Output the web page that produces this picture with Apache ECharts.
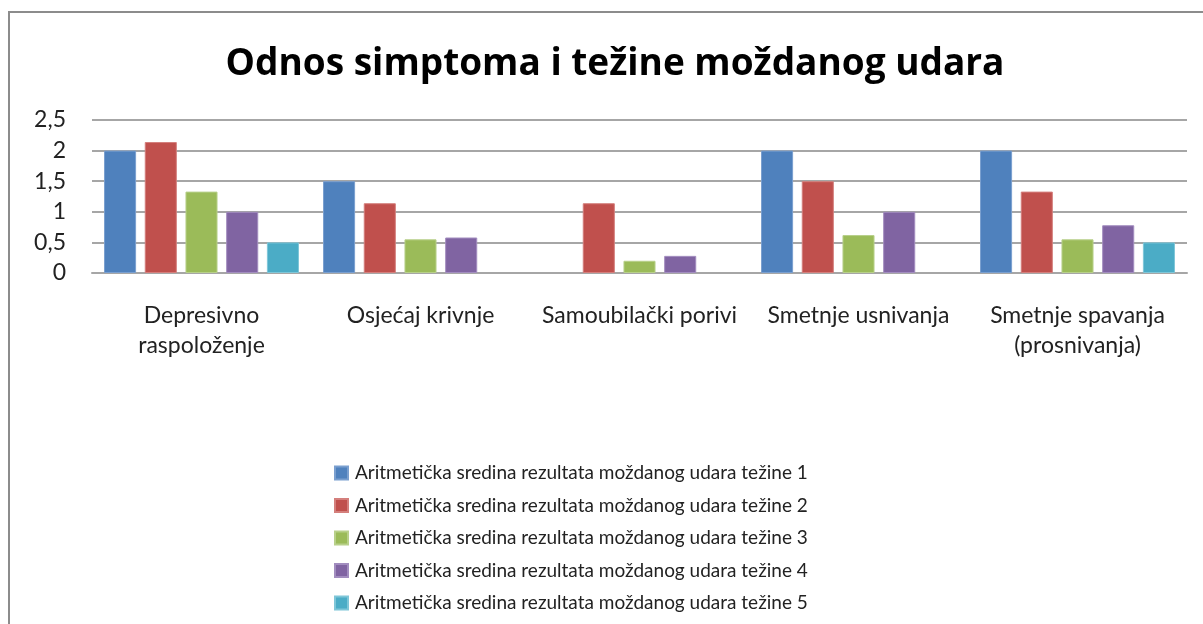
<!DOCTYPE html>
<html>
<head>
<meta charset="utf-8">
<script src="https://cdn.jsdelivr.net/npm/echarts@6/dist/echarts.min.js"></script>
<style>
  html, body { margin: 0; padding: 0; background: #fff; }
  #chart { width: 1203px; height: 624px; }
</style>
</head>
<body>
<div id="chart"></div>
<script>
// kategorije (simptomi)
const categories = [
  'Depresivno\nraspoloženje',
  'Osjećaj krivnje',
  'Samoubilački porivi',
  'Smetnje usnivanja',
  'Smetnje spavanja\n(prosnivanja)'
]

// aritmetičke sredine po težini moždanog udara
const tezina1 = [2.0, 1.5, null, 2.0, 2.0]
const tezina2 = [2.14, 1.14, 1.14, 1.5, 1.33]
const tezina3 = [1.33, 0.55, 0.2, 0.62, 0.55]
const tezina4 = [1.0, 0.58, 0.28, 1.0, 0.78]
const tezina5 = [0.5, null, null, null, 0.5]

const seriesNames = [
  'Aritmetička sredina rezultata moždanog udara težine 1',
  'Aritmetička sredina rezultata moždanog udara težine 2',
  'Aritmetička sredina rezultata moždanog udara težine 3',
  'Aritmetička sredina rezultata moždanog udara težine 4',
  'Aritmetička sredina rezultata moždanog udara težine 5'
]
const seriesData = [tezina1, tezina2, tezina3, tezina4, tezina5]
const colors = ['#4F81BD', '#C0504D', '#9BBB59', '#8064A2', '#4BACC6']
const borders = ['#7A9FCF', '#D47F7C', '#B8D08A', '#A28DBF', '#7FC6D8']

const font = 'Lato, "Open Sans", sans-serif'

const chart = echarts.init(document.getElementById('chart'))

chart.setOption({
  animation: false,
  textStyle: { fontFamily: font },
  title: {
    text: 'Odnos simptoma i težine moždanog udara',
    left: 610,
    textAlign: 'center',
    top: 41,
    textStyle: {
      fontFamily: '"Open Sans", sans-serif',
      fontSize: 37,
      fontWeight: 'bold',
      color: '#000'
    }
  },
  graphic: [
    {
      type: 'rect',
      shape: { x: 9, y: 12, width: 1260, height: 700 },
      style: { fill: 'none', stroke: '#8c8c8c', lineWidth: 2 },
      silent: true
    }
  ],
  legend: {
    orient: 'vertical',
    left: 334,
    top: 462,
    height: 200,
    padding: 0,
    itemWidth: 13,
    itemHeight: 13,
    itemGap: 10.5,
    icon: 'rect',
    textStyle: { fontFamily: font, fontSize: 19, lineHeight: 22, color: '#222', padding: [0, 0, 0, 2] },
    data: seriesNames
  },
  grid: {
    left: 92,
    right: 16,
    top: 120,
    bottom: 351,
    containLabel: false
  },
  xAxis: {
    type: 'category',
    data: categories,
    axisTick: { show: false },
    axisLine: { lineStyle: { color: '#a6a6a6', width: 2 } },
    axisLabel: {
      color: '#222',
      fontSize: 23,
      lineHeight: 30,
      margin: 28,
      interval: 0
    }
  },
  yAxis: {
    type: 'value',
    min: 0,
    max: 2.5,
    interval: 0.5,
    axisLine: { show: false },
    axisTick: { show: false },
    axisLabel: {
      color: '#222',
      fontSize: 23,
      margin: 26,
      formatter: v => String(v).replace('.', ',')
    },
    splitLine: { lineStyle: { color: '#a6a6a6', width: 2 } }
  },
  series: seriesData.map((data, i) => ({
    name: seriesNames[i],
    type: 'bar',
    data: data,
    barGap: '27%',
    barCategoryGap: '11%',
    itemStyle: {
      color: colors[i],
      borderColor: borders[i],
      borderWidth: 1
    }
  }))
})
</script>
</body>
</html>
